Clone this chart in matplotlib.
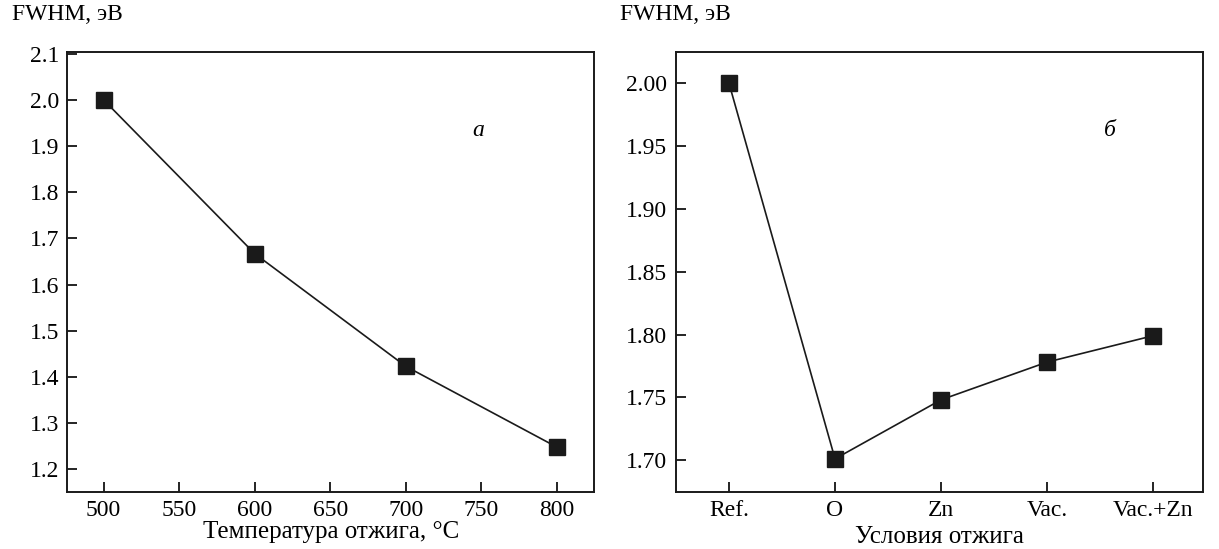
import matplotlib
matplotlib.use('Agg')
import matplotlib.pyplot as plt

# panel a: annealing temperature
temps = [500, 600, 700, 800]
fwhm_temp = [2.0, 1.667, 1.423, 1.248]

# panel b: annealing conditions
conditions = ['Ref.', 'O', 'Zn', 'Vac.', 'Vac.+Zn']
fwhm_cond = [2.0, 1.701, 1.748, 1.778, 1.799]

plt.rcParams['font.family'] = ['Liberation Serif', 'DejaVu Serif']
plt.rcParams['font.size'] = 17

fig = plt.figure(figsize=(12.19, 5.49), dpi=100)
W, H = 1219, 549
ax1 = fig.add_axes([67.3 / W, 1 - 491.5 / H, 526.7 / W, 439.2 / H])
ax2 = fig.add_axes([675.7 / W, 1 - 491.5 / H, 527 / W, 439.2 / H])

style = dict(color='#1a1a1a', lw=1.2, marker='s', ms=11, mec='#1a1a1a', mfc='#1a1a1a')

ax1.plot(temps, fwhm_temp, **style)
ax1.set_xlim(476, 824.5)
ax1.set_ylim(1.152, 2.103)
ax1.set_xticks(range(500, 801, 50))
ax1.set_yticks([1.2, 1.3, 1.4, 1.5, 1.6, 1.7, 1.8, 1.9, 2.0, 2.1])
ax1.set_yticklabels(['1.2', '1.3', '1.4', '1.5', '1.6', '1.7', '1.8', '1.9', '2.0', '2.1'])
ax1.set_xlabel('Температура отжига, °C', fontsize=18, labelpad=0)
ax1.text(0.78, 0.823, 'a', transform=ax1.transAxes, style='italic', ha='center', va='center')
fig.text(12 / W, 1 - 14 / H, 'FWHM, эВ', ha='left', va='center')

xs = list(range(len(conditions)))
ax2.plot(xs, fwhm_cond, **style)
ax2.set_xlim(-0.503, 4.469)
ax2.set_ylim(1.675, 2.0247)
ax2.set_xticks(xs)
ax2.set_xticklabels(conditions)
ax2.set_yticks([1.70, 1.75, 1.80, 1.85, 1.90, 1.95, 2.00])
ax2.set_yticklabels(['1.70', '1.75', '1.80', '1.85', '1.90', '1.95', '2.00'])
ax2.set_xlabel('Условия отжига', fontsize=18, labelpad=4)
ax2.text(0.824, 0.823, 'б', transform=ax2.transAxes, style='italic', ha='center', va='center')
fig.text(620 / W, 1 - 14 / H, 'FWHM, эВ', ha='left', va='center')

for ax in (ax1, ax2):
    ax.tick_params(direction='in', length=7.5, width=1.2, top=False, right=False, pad=6)
    for s in ax.spines.values():
        s.set_linewidth(1.4)
        s.set_color('#1a1a1a')

fig.savefig('out.png', dpi=100)
